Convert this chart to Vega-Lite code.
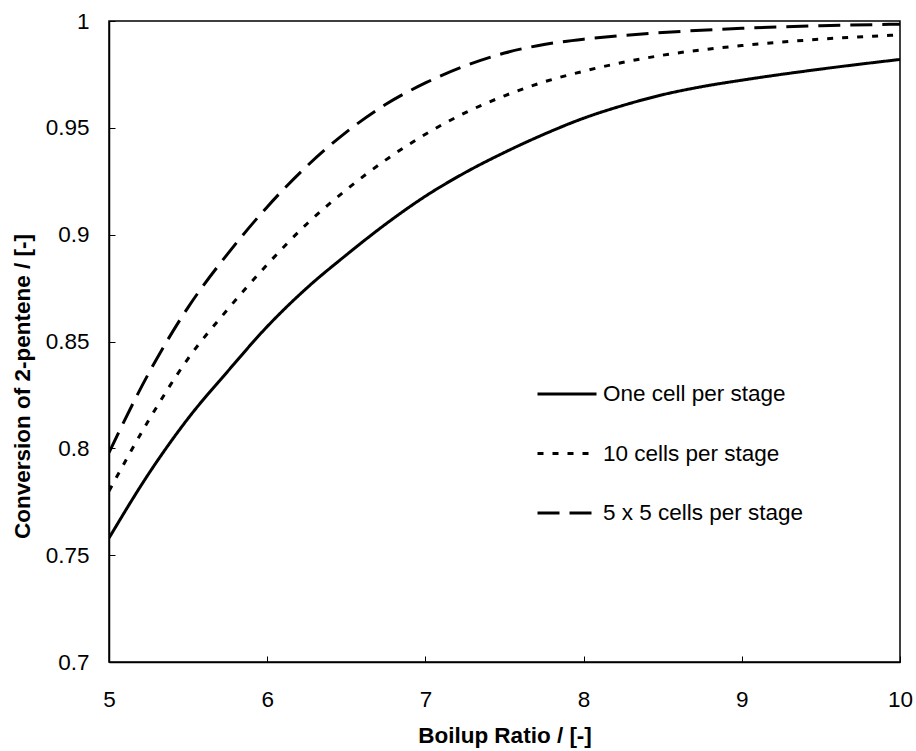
{
  "$schema": "https://vega.github.io/schema/vega-lite/v6.json",
  "width": 791,
  "height": 641,
  "autosize": "none",
  "padding": {"left": 109, "top": 21, "right": 16, "bottom": 89},
  "background": "white",
  "config": {
    "font": "Liberation Sans",
    "view": {"stroke": "black", "strokeWidth": 1.5},
    "axis": {"grid": false, "domainColor": "black", "domainWidth": 1.5, "tickColor": "black", "tickWidth": 1, "tickSize": -6, "labelColor": "black", "labelFontSize": 22.5, "titleFontSize": 22.5, "titleFontWeight": "bold", "titleColor": "black", "labelFont": "Liberation Sans", "titleFont": "Liberation Sans"},
    "legend": {"labelFontSize": 22.5, "labelColor": "black", "labelFont": "Liberation Sans"}
  },
  "data": {"values": [
    {"x": 5, "y": 0.758, "s": "One cell per stage"},
    {"x": 5.25, "y": 0.788, "s": "One cell per stage"},
    {"x": 5.5, "y": 0.814, "s": "One cell per stage"},
    {"x": 5.75, "y": 0.836, "s": "One cell per stage"},
    {"x": 6, "y": 0.857, "s": "One cell per stage"},
    {"x": 6.25, "y": 0.875, "s": "One cell per stage"},
    {"x": 6.5, "y": 0.8905, "s": "One cell per stage"},
    {"x": 6.75, "y": 0.905, "s": "One cell per stage"},
    {"x": 7, "y": 0.918, "s": "One cell per stage"},
    {"x": 7.25, "y": 0.929, "s": "One cell per stage"},
    {"x": 7.5, "y": 0.9385, "s": "One cell per stage"},
    {"x": 7.75, "y": 0.947, "s": "One cell per stage"},
    {"x": 8, "y": 0.9545, "s": "One cell per stage"},
    {"x": 8.25, "y": 0.9605, "s": "One cell per stage"},
    {"x": 8.5, "y": 0.9655, "s": "One cell per stage"},
    {"x": 8.75, "y": 0.9693, "s": "One cell per stage"},
    {"x": 9, "y": 0.9723, "s": "One cell per stage"},
    {"x": 9.5, "y": 0.9775, "s": "One cell per stage"},
    {"x": 10, "y": 0.982, "s": "One cell per stage"},
    {"x": 5, "y": 0.78, "s": "10 cells per stage"},
    {"x": 5.25, "y": 0.813, "s": "10 cells per stage"},
    {"x": 5.5, "y": 0.842, "s": "10 cells per stage"},
    {"x": 5.75, "y": 0.865, "s": "10 cells per stage"},
    {"x": 6, "y": 0.886, "s": "10 cells per stage"},
    {"x": 6.25, "y": 0.905, "s": "10 cells per stage"},
    {"x": 6.5, "y": 0.921, "s": "10 cells per stage"},
    {"x": 6.75, "y": 0.935, "s": "10 cells per stage"},
    {"x": 7, "y": 0.947, "s": "10 cells per stage"},
    {"x": 7.25, "y": 0.957, "s": "10 cells per stage"},
    {"x": 7.5, "y": 0.965, "s": "10 cells per stage"},
    {"x": 7.75, "y": 0.9715, "s": "10 cells per stage"},
    {"x": 8, "y": 0.9765, "s": "10 cells per stage"},
    {"x": 8.5, "y": 0.984, "s": "10 cells per stage"},
    {"x": 9, "y": 0.9885, "s": "10 cells per stage"},
    {"x": 9.5, "y": 0.9915, "s": "10 cells per stage"},
    {"x": 10, "y": 0.9935, "s": "10 cells per stage"},
    {"x": 5, "y": 0.798, "s": "5 x 5 cells per stage"},
    {"x": 5.25, "y": 0.835, "s": "5 x 5 cells per stage"},
    {"x": 5.5, "y": 0.866, "s": "5 x 5 cells per stage"},
    {"x": 5.75, "y": 0.891, "s": "5 x 5 cells per stage"},
    {"x": 6, "y": 0.913, "s": "5 x 5 cells per stage"},
    {"x": 6.25, "y": 0.932, "s": "5 x 5 cells per stage"},
    {"x": 6.5, "y": 0.948, "s": "5 x 5 cells per stage"},
    {"x": 6.75, "y": 0.961, "s": "5 x 5 cells per stage"},
    {"x": 7, "y": 0.971, "s": "5 x 5 cells per stage"},
    {"x": 7.25, "y": 0.979, "s": "5 x 5 cells per stage"},
    {"x": 7.5, "y": 0.985, "s": "5 x 5 cells per stage"},
    {"x": 7.75, "y": 0.989, "s": "5 x 5 cells per stage"},
    {"x": 8, "y": 0.9915, "s": "5 x 5 cells per stage"},
    {"x": 8.25, "y": 0.9932, "s": "5 x 5 cells per stage"},
    {"x": 8.5, "y": 0.9946, "s": "5 x 5 cells per stage"},
    {"x": 9, "y": 0.9966, "s": "5 x 5 cells per stage"},
    {"x": 9.5, "y": 0.9978, "s": "5 x 5 cells per stage"},
    {"x": 10, "y": 0.9985, "s": "5 x 5 cells per stage"}
  ]},
  "mark": {"type": "line", "color": "black", "strokeWidth": 3, "interpolate": "monotone", "clip": true},
  "encoding": {
    "x": {"field": "x", "type": "quantitative", "scale": {"domain": [5, 10], "nice": false},
      "axis": {"title": "Boilup Ratio / [-]", "values": [5, 6, 7, 8, 9, 10], "format": "d", "labelPadding": 32, "labelBaseline": "top", "titleY": 73, "titleBaseline": "middle", "labelFlush": false}},
    "y": {"field": "y", "type": "quantitative", "scale": {"domain": [0.7, 1], "nice": false, "zero": false},
      "axis": {"title": "Conversion of 2-pentene / [-]", "values": [0.7, 0.75, 0.8, 0.85, 0.9, 0.95, 1], "format": ".2~f", "labelPadding": 26, "labelFlush": false, "titleAngle": -90, "titleX": -87, "titleY": 365, "titleBaseline": "middle", "titleAlign": "center"}},
    "strokeDash": {"field": "s", "type": "nominal",
      "scale": {"domain": ["One cell per stage", "10 cells per stage", "5 x 5 cells per stage"], "range": [[1, 0], [6, 9], [22, 10]]},
      "legend": {"title": null, "orient": "none", "legendX": 427, "legendY": 342, "symbolType": "stroke", "symbolSize": 3481, "symbolStrokeWidth": 3, "symbolStrokeColor": "black", "labelOffset": 5, "rowPadding": 16.5, "padding": 0, "labelLimit": 400}}
  }
}
